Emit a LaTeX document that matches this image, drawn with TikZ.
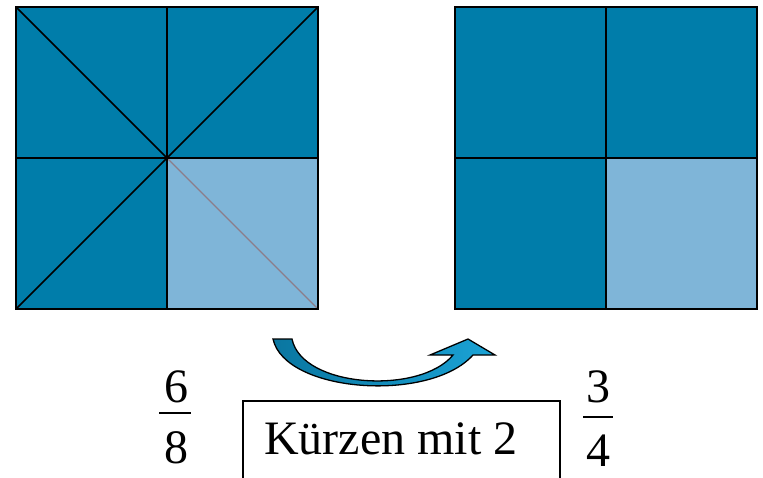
\documentclass[tikz,border=0pt]{standalone}
\usepackage{fontspec}
\setmainfont{Liberation Serif}
\usepackage{xcolor}
\usetikzlibrary{calc}
\definecolor{cellDark}{HTML}{007DAA}
\definecolor{cellLight}{HTML}{7FB5D8}
\definecolor{diagGray}{HTML}{8C7D8A}
\definecolor{arrowDark}{HTML}{0A76A0}
\definecolor{arrowLight}{HTML}{1BA3D6}

\begin{document}
\begin{tikzpicture}[
    x=1pt,y=-1pt,
    every node/.style={font=\fontsize{48}{50}\selectfont,inner sep=0pt},
    grid/.style={draw=black,line width=1.5pt},
    digit/.style={anchor=base},
    bar/.style={line width=1.6pt}
  ]
  \useasboundingbox (0,0) rectangle (763,477);

  % left square: 6/8
  \fill[cellDark] (16,7) rectangle (318,309);
  \fill[cellLight] (167,158) rectangle (318,309);
  \draw[diagGray,line width=1.3pt] (167,158) -- (318,309);
  \draw[grid] (16,7) -- (167,158) -- (318,7);
  \draw[grid] (16,309) -- (167,158);
  \draw[grid] (16,7) rectangle (318,309);
  \draw[grid] (167,7) -- (167,309) (16,158) -- (318,158);

  % right square: 3/4
  \fill[cellDark] (455,7) rectangle (757,309);
  \fill[cellLight] (606,158) rectangle (757,309);
  \draw[grid] (455,7) rectangle (757,309);
  \draw[grid] (606,7) -- (606,309) (455,158) -- (757,158);

  % curved arrow
  \draw[line width=1.3pt,line join=miter,left color=arrowDark,right color=arrowLight]
    (273,339) .. controls (285,393) and (430,403) .. (473,355)
    -- (495,355) -- (468,339) -- (430,355) -- (453,355)
    .. controls (420,395) and (302,388) .. (292,339) -- cycle;

  % fractions
  \node[digit] (num6) at (176,402) {6};
  \node[digit] (den8) at (176,463) {8};
  \draw[bar] (159,413) -- (191,413);
  \node[digit] (num3) at (598,402) {3};
  \node[digit] (den4) at (598,466) {4};
  \draw[bar] (583,417) -- (613,417);

  % rule box
  \draw[line width=1.3pt] (243,480) -- (243,401) -- (560,401) -- (560,480);
  \node[anchor=base west] (rule) at (264,454) {Kürzen mit 2};
\end{tikzpicture}
\end{document}
